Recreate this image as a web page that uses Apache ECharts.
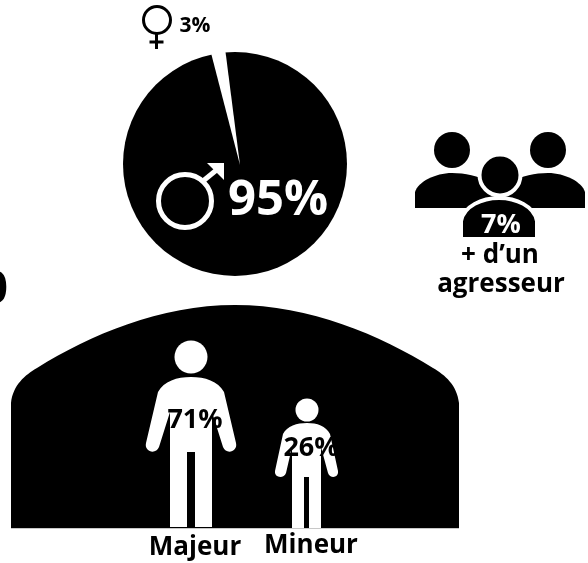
<!DOCTYPE html>
<html>
<head>
<meta charset="utf-8">
<title>Agresseurs</title>
<style>
html,body{margin:0;padding:0;background:#fff;}
#main{width:588px;height:563px;}
</style>
<script src="https://cdn.jsdelivr.net/npm/echarts@6/dist/echarts.min.js"></script>
</head>
<body>
<div id="main"></div>
<script>
// valeurs
var genderNames = ['Homme', 'Femme'];
var genderLabels = [95, 3];
var wedgeShare = [98, 2]; // ouverture de la part blanche telle que dessinee (~7 deg)
var ageNames = ['Majeur', 'Mineur'];
var ageValues = [71, 26];
var groupValue = 7;
var groupLines = ['+ d\u2019un', 'agresseur'];
var cutText = '0';

var FONT = '"Open Sans"';
var shapeCount = 0;

function txt(str, x, y, size, color, align){
	return {
		type: 'text',
		z: 50,
		silent: true,
		style: {
			text: str,
			x: x,
			y: y,
			fill: color || '#000',
			font: 'bold ' + size + 'px ' + FONT,
			textAlign: align || 'center',
			textVerticalAlign: 'middle'
		}
	};
}

// le composant graphic ne prend pas de path direct : on enregistre une forme par trace
function shape(path, fill, z, stroke, lineWidth){
	var name = 'icon' + (shapeCount++);
	echarts.graphic.registerShape(name, echarts.graphic.extendPath(path));
	return {
		type: name,
		z: z,
		silent: true,
		style: {fill: fill, stroke: stroke || null, lineWidth: lineWidth || 0}
	};
}

function circle(cx, cy, r, fill, z, stroke, lineWidth){
	return {
		type: 'circle',
		z: z,
		silent: true,
		shape: {cx: cx, cy: cy, r: r},
		style: {fill: fill, stroke: stroke || null, lineWidth: lineWidth || 0}
	};
}

// silhouette et personnages du bas
function ageIcons(){
	return [
		shape('M11 528 L11 403 C13 385 25 375 37 368 C90 335 160 305 235 305 C310 305 380 335 433 368 C445 375 457 385 459 403 L459 528 Z', '#000', 10),
		shape('M11 528.5 L459 528.5', null, 11, '#c8c8c8', 1),
		circle(191, 357, 16.5, '#fff', 12),
		shape('M191 377 C205 377 218 381 224 392 L236 443 C238 452 226 455 223 447 L212 412 L212 527 L195 527 L195 452 L187 452 L187 527 L170 527 L170 412 L159 447 C156 455 144 452 146 443 L158 392 C164 381 177 377 191 377 Z', '#fff', 12),
		circle(307, 410, 11.5, '#fff', 12),
		shape('M307 423 C317 423 326 426 330 434 L338 471 C339 478 330 479 328 473 L321 447 L321 528 L309 528 L309 477 L304 477 L304 528 L292 528 L292 447 L286 473 C284 479 274 478 275 471 L283 434 C287 426 297 423 307 423 Z', '#fff', 12),
		txt(ageValues[0] + '%', 195, 420, 27),
		txt(ageValues[1] + '%', 311, 448, 27),
		txt(ageNames[0], 195, 548, 26),
		txt(ageNames[1], 311, 546, 26)
	];
}

// les trois personnes a droite
function groupIcons(){
	return [
		circle(452, 150, 18, '#000', 10),
		circle(548, 150, 18, '#000', 10),
		shape('M415 208 L415 192 C418 182 435 173 452 173 C465 173 478 176 490 182 L500 208 Z', '#000', 10),
		shape('M585 208 L585 192 C582 182 565 173 548 173 C535 173 522 176 510 182 L500 208 Z', '#000', 10),
		circle(500, 175, 20.5, '#000', 12, '#fff', 4),
		shape('M461 239 L461 221 C464 206 482 198 499 198 C516 198 534 206 537 221 L537 239 Z', '#000', 12, '#fff', 4),
		txt(groupValue + '%', 501, 225, 27, '#fff'),
		txt(groupLines[0], 500, 256, 26),
		txt(groupLines[1], 501, 285, 26)
	];
}

// symboles homme / femme et pourcentages du camembert
function genderIcons(){
	return [
		circle(157, 20, 13.5, null, 20, '#000', 3),
		shape('M156.5 34 L156.5 49 M149.5 42 L163.5 42', null, 20, '#000', 3),
		circle(185, 201, 26.5, null, 20, '#fff', 5),
		shape('M203 181 L219 168', null, 20, '#fff', 5),
		shape('M224 163 L207 163 L224 180 Z', '#fff', 20),
		txt(genderLabels[1] + '%', 195, 26, 21),
		txt(genderLabels[0] + '%', 278, 201, 49, '#fff')
	];
}

function initPage(){
	var myChart = echarts.init(document.getElementById('main'), null, {renderer: 'canvas'});
	var option = {
		animation: false,
		backgroundColor: '#fff',
		series: [{
			type: 'pie',
			z: 2,
			silent: true,
			center: [235, 164],
			radius: [0, 112],
			startAngle: 90,
			label: {show: false},
			labelLine: {show: false},
			data: [{name: genderNames[0], value: 100, itemStyle: {color: '#000'}}]
		}, {
			type: 'pie',
			z: 3,
			silent: true,
			center: [240, 165],
			radius: [0, 122],
			startAngle: 104.5,
			clockwise: true,
			label: {show: false},
			labelLine: {show: false},
			data: [
				{name: genderNames[1], value: wedgeShare[1], itemStyle: {color: '#fff'}},
				{name: genderNames[0], value: wedgeShare[0], itemStyle: {color: 'transparent'}}
			]
		}],
		graphic: {
			elements: [txt(cutText, 8, 290, 44, '#000', 'right')]
				.concat(ageIcons())
				.concat(groupIcons())
				.concat(genderIcons())
		}
	};
	myChart.setOption(option);
}

initPage();
</script>
</body>
</html>
